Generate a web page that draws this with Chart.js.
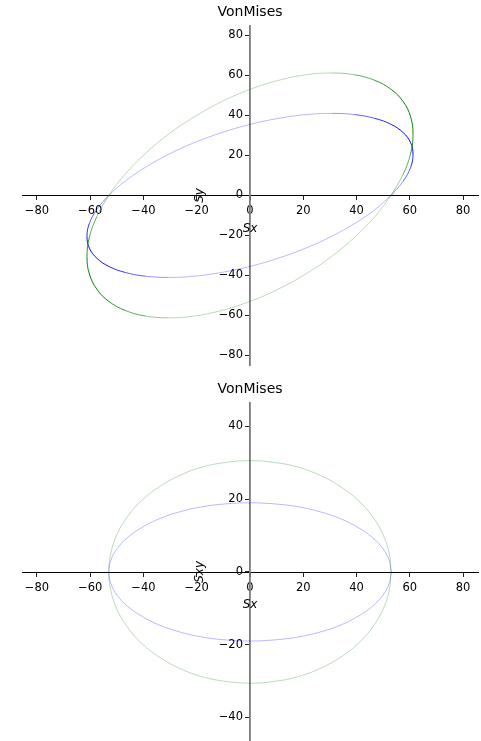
<!DOCTYPE html>
<html>
<head>
<meta charset="utf-8">
<script src="https://cdn.jsdelivr.net/npm/chart.js@4"></script>
<style>
  body { margin: 0; background: #fff; }
  .box { position: absolute; left: 0; width: 481px; }
</style>
</head>
<body>
<div class="box" style="top:0;height:377px"><canvas id="vmTop"></canvas></div>
<div class="box" style="top:377px;height:364px"><canvas id="vmBottom"></canvas></div>
<script>
// Sx / Sy plane, points every 10 deg round each ellipse
const sxTop = [53, 57.5, 60.3, 61.2, 60.3, 57.5, 53, 46.9, 39.3, 30.6, 20.9, 10.6, 0, -10.6, -20.9, -30.6, -39.3, -46.9,
  -53, -57.5, -60.3, -61.2, -60.3, -57.5, -53, -46.9, -39.3, -30.6, -20.9, -10.6, 0, 10.6, 20.9, 30.6, 39.3, 46.9, 53];
const syGreen = [0, 10.6, 20.9, 30.6, 39.3, 46.9, 53, 57.5, 60.3, 61.2, 60.3, 57.5, 53, 46.9, 39.3, 30.6, 20.9, 10.6,
  0, -10.6, -20.9, -30.6, -39.3, -46.9, -53, -57.5, -60.3, -61.2, -60.3, -57.5, -53, -46.9, -39.3, -30.6, -20.9, -10.6, 0];
const syBlue = [0, 7.1, 14, 20.5, 26.4, 31.4, 35.5, 38.5, 40.4, 41, 40.4, 38.5, 35.5, 31.4, 26.4, 20.5, 14, 7.1,
  0, -7.1, -14, -20.5, -26.4, -31.4, -35.5, -38.5, -40.4, -41, -40.4, -38.5, -35.5, -31.4, -26.4, -20.5, -14, -7.1, 0];

// Sx / Sxy plane
const sxBottom = [53, 52.2, 49.8, 45.9, 40.6, 34.1, 26.5, 18.1, 9.2, 0, -9.2, -18.1, -26.5, -34.1, -40.6, -45.9, -49.8, -52.2,
  -53, -52.2, -49.8, -45.9, -40.6, -34.1, -26.5, -18.1, -9.2, 0, 9.2, 18.1, 26.5, 34.1, 40.6, 45.9, 49.8, 52.2, 53];
const sxyGreen = [0, 5.3, 10.5, 15.3, 19.7, 23.4, 26.5, 28.8, 30.1, 30.6, 30.1, 28.8, 26.5, 23.4, 19.7, 15.3, 10.5, 5.3,
  0, -5.3, -10.5, -15.3, -19.7, -23.4, -26.5, -28.8, -30.1, -30.6, -30.1, -28.8, -26.5, -23.4, -19.7, -15.3, -10.5, -5.3, 0];
const sxyBlue = [0, 3.3, 6.5, 9.5, 12.2, 14.6, 16.5, 17.9, 18.7, 19, 18.7, 17.9, 16.5, 14.6, 12.2, 9.5, 6.5, 3.3,
  0, -3.3, -6.5, -9.5, -12.2, -14.6, -16.5, -17.9, -18.7, -19, -18.7, -17.9, -16.5, -14.6, -12.2, -9.5, -6.5, -3.3, 0];

const xTicks = [-80, -60, -40, -20, 0, 20, 40, 60, 80];
const yTicksTop = [-80, -60, -40, -20, 0, 20, 40, 60, 80];
const yTicksBottom = [-40, -20, 0, 20, 40];

Chart.defaults.font.family = '"DejaVu Sans"';
Chart.defaults.color = '#000';

const points = (xs, ys) => xs.map((v, i) => ({ x: v, y: ys[i] }));
const minus = v => (v < 0 ? '\u2212' + Math.abs(v) : String(v));

// the curves look darker where the plotted points bunch up (upper right / lower left)
function shaded(rgb) {
    return ctx => {
        const t = (ctx.p0DataIndex * 10 + 5) * Math.PI / 180;
        const a = 0.28 + 0.72 * Math.max(0, Math.sin(2 * t));
        return `rgba(${rgb},${a.toFixed(2)})`;
    };
}

const axisNames = {
    id: 'axisNames',
    afterDraw(chart, args, opts) {
        const { ctx, chartArea, scales: { x, y } } = chart;
        const x0 = x.getPixelForValue(0), y0 = y.getPixelForValue(0);
        ctx.save();
        ctx.fillStyle = '#000';
        ctx.font = 'italic 12px "DejaVu Sans"';
        ctx.textAlign = 'center';
        ctx.textBaseline = 'middle';
        ctx.fillText(opts.x, x0, y0 + 33);
        ctx.translate(x0 - 50, (chartArea.top + chartArea.bottom) / 2);
        ctx.rotate(-Math.PI / 2);
        ctx.fillText(opts.y, 0, 0);
        ctx.restore();
    }
};

function axis(lim, ticks, spine, spineWidth, horizontal) {
    return {
        type: 'linear',
        position: 'center',
        min: -lim,
        max: lim,
        // axes sit on the origin, so they must not eat into the plot area
        afterFit: s => {
            if (horizontal) s.height = 0; else s.width = 0;
            s.paddingTop = s.paddingBottom = s.paddingLeft = s.paddingRight = 0;
        },
        afterBuildTicks: s => { s.ticks = ticks.map(v => ({ value: v })); },
        grid: { drawOnChartArea: false, drawTicks: true, tickLength: 4, color: '#222' },
        border: { color: spine, width: spineWidth },
        ticks: { font: { size: 11.5 }, padding: horizontal ? 5 : 3, callback: minus, autoSkip: false, maxRotation: 0 }
    };
}

function vonMises(id, data, yLim, yTicks, names, bottomPad) {
    new Chart(document.getElementById(id), {
        type: 'scatter',
        data: { datasets: data },
        options: {
            responsive: true,
            maintainAspectRatio: false,
            animation: false,
            layout: { padding: { left: 22, right: 3, top: 0, bottom: bottomPad } },
            elements: { point: { radius: 0 }, line: { borderWidth: 1, tension: 0.4 } },
            scales: {
                x: axis(85.6, xTicks, '#000', 1, true),
                y: axis(yLim, yTicks, '#7a7a7a', 1.8, false)
            },
            plugins: {
                legend: { display: false },
                tooltip: { enabled: false },
                title: { display: true, text: 'VonMises', font: { size: 14, weight: 'normal' }, color: '#000', padding: { top: 4, bottom: 5 } },
                axisNames: names
            }
        },
        plugins: [axisNames]
    });
}

vonMises('vmTop', [
    { data: points(sxTop, syGreen), showLine: true, borderColor: 'rgb(0,128,0)', segment: { borderColor: shaded('0,128,0') } },
    { data: points(sxTop, syBlue), showLine: true, borderColor: 'rgb(0,0,255)', segment: { borderColor: shaded('0,0,255') } }
], 84.8, yTicksTop, { x: 'Sx', y: 'Sy' }, 12);

vonMises('vmBottom', [
    { data: points(sxBottom, sxyGreen), showLine: true, borderColor: 'rgba(0,128,0,0.28)' },
    { data: points(sxBottom, sxyBlue), showLine: true, borderColor: 'rgba(0,0,255,0.28)' }
], 46.5, yTicksBottom, { x: 'Sx', y: 'Sxy' }, 0);
</script>
</body>
</html>
